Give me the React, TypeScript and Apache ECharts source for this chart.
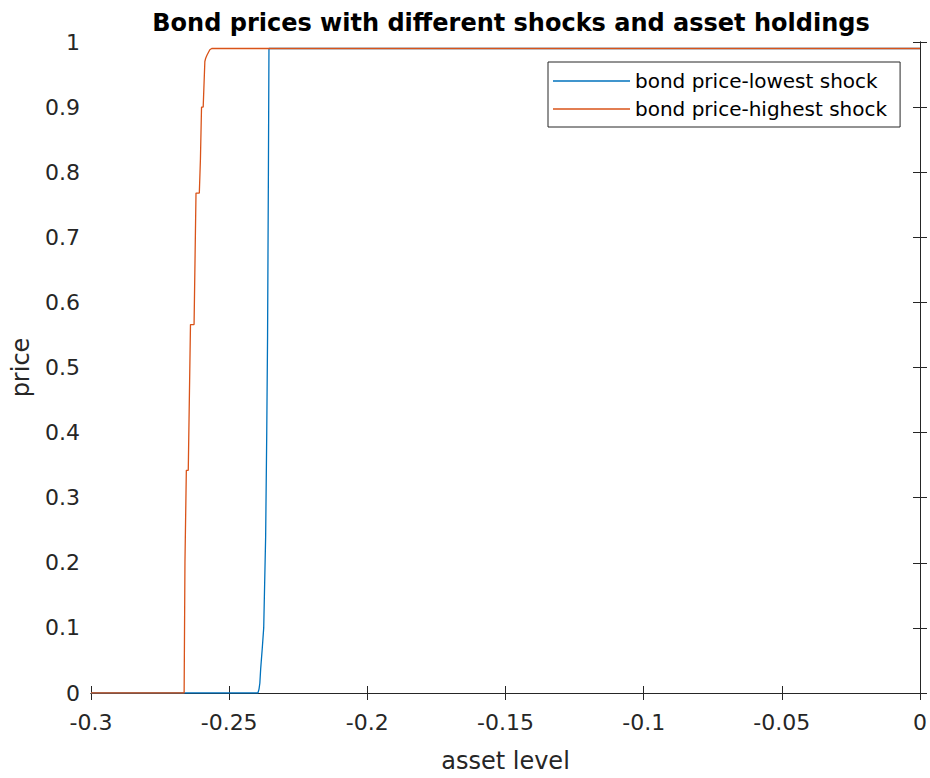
import React, { useEffect, useRef } from "react";
import * as echarts from "echarts";

const titleText = "Bond prices with different shocks and asset holdings";
const xName = "asset level";
const yName = "price";
const seriesNames = ["bond price-lowest shock", "bond price-highest shock"];

// lowest shock curve
const lowX = [-0.3, -0.2396, -0.2392, -0.2389, -0.2386, -0.238, -0.2375, -0.2368, -0.2364, -0.2361, -0.2358, -0.2356, 0];
const lowY = [0, 0, 0.006, 0.015, 0.037, 0.07, 0.1, 0.24, 0.4, 0.55, 0.8, 0.99, 0.99];

// highest shock curve
const highX = [-0.3, -0.2663, -0.266, -0.2655, -0.2648, -0.264, -0.2627, -0.262, -0.2608, -0.2604, -0.26, -0.2594, -0.2588, -0.2585, -0.258, -0.257, -0.2563, 0];
const highY = [0, 0, 0.2, 0.342, 0.342, 0.566, 0.566, 0.768, 0.768, 0.82, 0.9, 0.9, 0.97, 0.975, 0.98, 0.988, 0.99, 0.99];

const xMin = -0.3, xMax = 0, xStep = 0.05;
const yMin = 0, yMax = 1, yStep = 0.1;

const colors = ["#0072BD", "#D95319"];
const FONT = "DejaVu Sans";
const AXIS_COLOR = "#262626";

export default function App() {
  const ref = useRef<HTMLDivElement>(null);
  useEffect(() => {
    if (!ref.current) return;
    const chart = echarts.init(ref.current, null, { renderer: "svg" });
    const lowData = lowX.map((x, i) => [x, lowY[i]]);
    const highData = highX.map((x, i) => [x, highY[i]]);
    const axisLine = { show: true, lineStyle: { color: AXIS_COLOR, width: 1 } };
    const tick = { show: true, inside: true, length: 7, lineStyle: { color: AXIS_COLOR } };
    chart.setOption({
      animation: false,
      backgroundColor: "#fff",
      title: {
        text: titleText,
        left: 506,
        textAlign: "center",
        top: 6,
        textStyle: { fontFamily: FONT, fontSize: 24, fontWeight: "bold", color: "#000" },
      },
      legend: {
        orient: "vertical",
        left: 548,
        top: 62,
        data: seriesNames,
        icon: "rect",
        itemWidth: 77,
        itemHeight: 1.4,
        itemGap: 8,
        padding: [9, 13, 8, 5],
        borderColor: AXIS_COLOR,
        borderWidth: 1,
        backgroundColor: "#fff",
        textStyle: { fontFamily: FONT, fontSize: 20, color: "#000", lineHeight: 20 },
      },
      grid: { left: 91, right: 9, top: 42, bottom: 82, containLabel: false },
      xAxis: [
        {
          type: "value",
          min: xMin,
          max: xMax,
          interval: xStep,
          name: xName,
          nameLocation: "middle",
          nameGap: 56,
          nameTextStyle: { fontFamily: FONT, fontSize: 24, color: AXIS_COLOR },
          axisLine,
          axisTick: tick,
          splitLine: { show: false },
          axisLabel: { fontFamily: FONT, fontSize: 22, color: AXIS_COLOR, margin: 18 },
        },
        {
          type: "value",
          position: "top",
          min: xMin,
          max: xMax,
          interval: xStep,
          axisLine,
          axisTick: tick,
          splitLine: { show: false },
          axisLabel: { show: false },
        },
      ],
      yAxis: [
        {
          type: "value",
          min: yMin,
          max: yMax,
          interval: yStep,
          name: yName,
          nameLocation: "middle",
          nameGap: 58,
          nameTextStyle: { fontFamily: FONT, fontSize: 24, color: AXIS_COLOR },
          axisLine,
          axisTick: tick,
          splitLine: { show: false },
          axisLabel: { fontFamily: FONT, fontSize: 22, color: AXIS_COLOR, margin: 11 },
        },
        {
          type: "value",
          position: "right",
          min: yMin,
          max: yMax,
          interval: yStep,
          axisLine,
          axisTick: tick,
          splitLine: { show: false },
          axisLabel: { show: false },
        },
      ],
      series: [
        {
          name: seriesNames[0],
          type: "line",
          data: lowData,
          symbol: "none",
          showSymbol: false,
          lineStyle: { color: colors[0], width: 1.3 },
          itemStyle: { color: colors[0] },
        },
        {
          name: seriesNames[1],
          type: "line",
          data: highData,
          symbol: "none",
          showSymbol: false,
          lineStyle: { color: colors[1], width: 1.3 },
          itemStyle: { color: colors[1] },
        },
      ],
    });
    return () => chart.dispose();
  }, []);
  return <div ref={ref} style={{ width: 930, height: 778, position: "absolute", left: 0, top: 0 }} />;
}
